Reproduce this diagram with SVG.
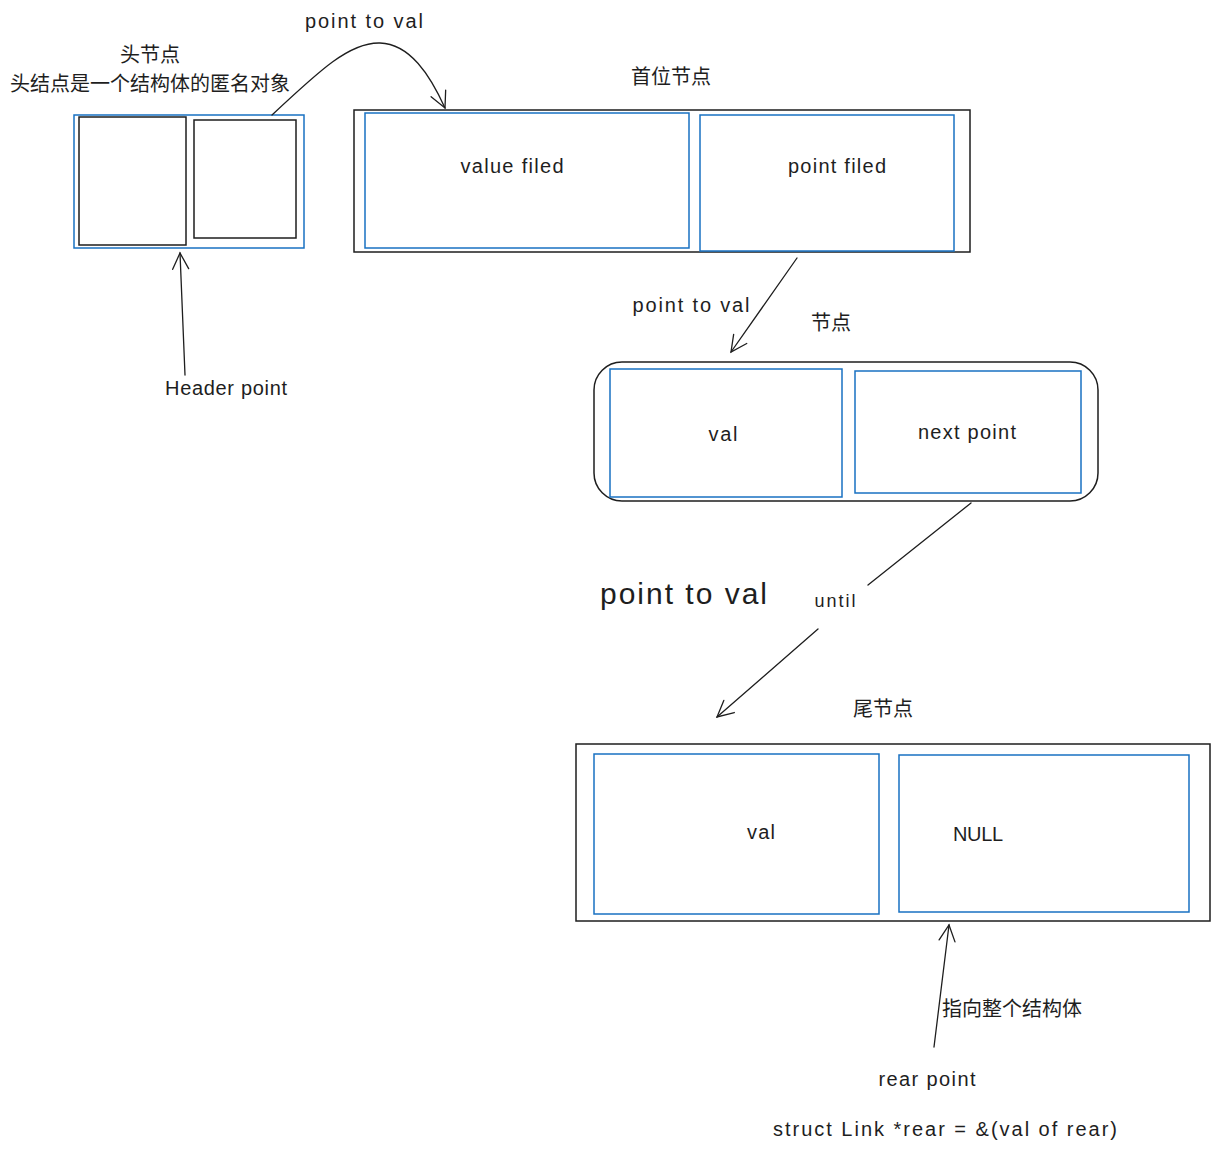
<svg xmlns="http://www.w3.org/2000/svg" width="1220" height="1152" viewBox="0 0 1220 1152">
<defs>
<style>
.blk{fill:none;stroke:#1e1e1e;stroke-width:1.5}
.blu{fill:none;stroke:#1971c2;stroke-width:1.5}
.ln{fill:none;stroke:#1e1e1e;stroke-width:1.3;stroke-linecap:round}
.t{font-family:"Liberation Sans","Noto Sans",sans-serif;font-size:20px;fill:#1e1e1e}
.c{font-family:"Noto Sans CJK SC",sans-serif;font-size:20px;fill:#1e1e1e}
.m{text-anchor:middle}
</style>
<marker id="ah" viewBox="0 0 20 20" refX="18" refY="10" markerWidth="20" markerHeight="20" markerUnits="userSpaceOnUse" orient="auto">
<path d="M2 2 L18 10 L2 18" fill="none" stroke="#1e1e1e" stroke-width="1.3" stroke-linecap="round"/>
</marker>
</defs>
<rect width="1220" height="1152" fill="#ffffff"/>

<g id="header-node">
<rect class="blu" x="74" y="115" width="230" height="133"/>
<rect class="blk" x="79" y="117" width="107" height="128"/>
<rect class="blk" x="194" y="120" width="102" height="118"/>
<text class="c m" x="150" y="62">头节点</text>
<text class="c m" x="150" y="91">头结点是一个结构体的匿名对象</text>
</g>

<g id="first-node">
<rect class="blk" x="354" y="110" width="616" height="142"/>
<rect class="blu" x="365" y="113" width="324" height="135"/>
<rect class="blu" x="700" y="115" width="254" height="136"/>
<text class="t m" x="512" y="173" textLength="103">value filed</text>
<text class="t m" x="837" y="173" textLength="98">point filed</text>
<text class="c m" x="671" y="84">首位节点</text>
</g>

<g id="middle-node">
<rect class="blk" x="594" y="362" width="504" height="139" rx="28"/>
<rect class="blu" x="610" y="369" width="232" height="128"/>
<rect class="blu" x="855" y="371" width="226" height="122"/>
<text class="t m" x="723" y="441" textLength="29">val</text>
<text class="t m" x="967" y="439" textLength="98">next point</text>
<text class="c m" x="831" y="330">节点</text>
</g>

<g id="tail-node">
<rect class="blk" x="576" y="744" width="634" height="177"/>
<rect class="blu" x="594" y="754" width="285" height="160"/>
<rect class="blu" x="899" y="755" width="290" height="157"/>
<text class="t m" x="761" y="839" textLength="28">val</text>
<text class="t" x="953" y="841" textLength="50">NULL</text>
<text class="c m" x="883" y="716">尾节点</text>
</g>

<g id="connectors">
<path class="ln" d="M272 115 C320 70 350 42 380 43 C410 44 430 75 445 108" marker-end="url(#ah)"/>
<path class="ln" d="M797 258 L731 352" marker-end="url(#ah)"/>
<path class="ln" d="M971 503 L868 585"/>
<path class="ln" d="M818 629 L717 717" marker-end="url(#ah)"/>
<path class="ln" d="M185 375 L180 253" marker-end="url(#ah)"/>
<path class="ln" d="M934 1047 L949 925" marker-end="url(#ah)"/>
</g>

<g id="labels">
<text class="t m" x="364" y="28" textLength="118">point to val</text>
<text class="t m" x="691" y="312" textLength="117">point to val</text>
<text class="t" x="600" y="604" style="font-size:30px" textLength="167">point to val</text>
<text class="t m" x="835" y="607" style="font-size:18px" textLength="41">until</text>
<text class="t m" x="226" y="395" textLength="122">Header point</text>
<text class="c" x="942" y="1016">指向整个结构体</text>
<text class="t m" x="927" y="1086" textLength="97">rear point</text>
<text class="t m" x="945" y="1136" textLength="344">struct Link *rear = &amp;(val of rear)</text>
</g>
</svg>
